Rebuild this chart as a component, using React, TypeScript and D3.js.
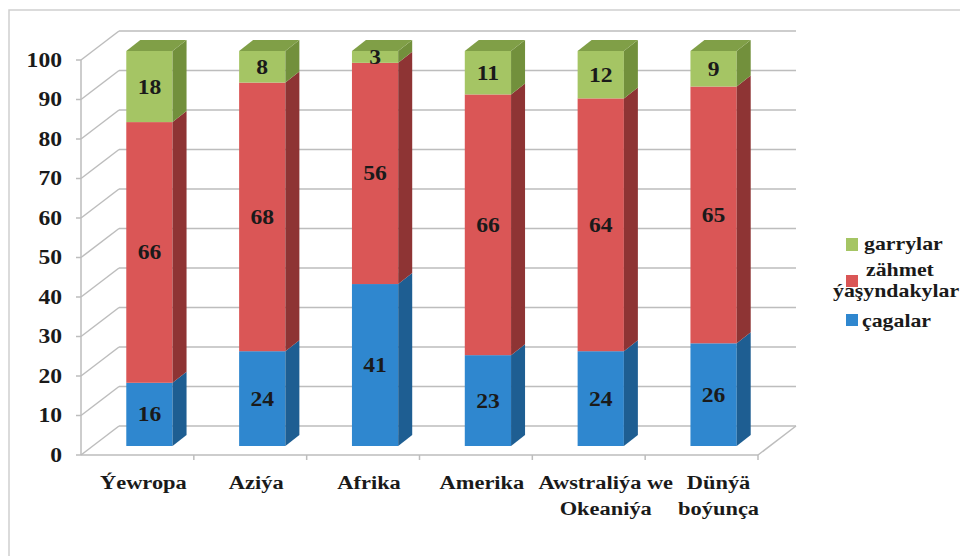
import React from "react";
import * as d3 from "d3";

const categories: string[][] = [
  ["Ýewropa"],
  ["Aziýa"],
  ["Afrika"],
  ["Amerika"],
  ["Awstraliýa we", "Okeaniýa"],
  ["Dünýä", "boýunça"],
];
const cagalar = [16, 24, 41, 23, 24, 26];
const zahmet = [66, 68, 56, 66, 64, 65];
const garrylar = [18, 8, 3, 11, 12, 9];
const yTicks = [0, 10, 20, 30, 40, 50, 60, 70, 80, 90, 100];

const seriesDefs = [
  { key: "cagalar", name: "çagalar", values: cagalar, front: "#2f87cf", side: "#1e5e92", top: "#2a74b3" },
  { key: "zahmet", name: "zähmet", values: zahmet, front: "#da5656", side: "#8e3434", top: "#b54444" },
  { key: "garrylar", name: "garrylar", values: garrylar, front: "#a5c564", side: "#72903c", top: "#809f47" },
];

const FONT = "'Liberation Serif', 'Times New Roman', serif";
const SX = 1.18;

export default function App() {
  const W = 960, H = 556;
  const x0 = 81, x1 = 758;
  const x = d3.scaleBand<number>().domain(categories.map((_, i) => i)).range([x0, x1]);
  const y = d3.scaleLinear().domain([0, 100]).range([455, 60]);
  const wall = { dx: 38, dy: -29 };
  const barFront = { dx: 12, dy: -9 };
  const barSide = { dx: 14, dy: -11 };
  const barW = x.bandwidth() * 0.41;
  const grid = "#bdbdbd";

  const stack = d3.stack<number>().keys(seriesDefs.map((s) => s.key)).value((i, k) => {
    const s = seriesDefs.find((d) => d.key === k)!;
    return s.values[i];
  })(categories.map((_, i) => i));

  const txt = (key: string, tx: number, ty: number, s: string, size: number, anchor: string) => (
    <text
      key={key}
      transform={`translate(${tx},${ty}) scale(${SX},1)`}
      textAnchor={anchor as any}
      fontFamily={FONT}
      fontWeight="bold"
      fontSize={size}
      fill="#1a1a1a"
    >
      {s}
    </text>
  );

  return (
    <svg width={W} height={H} style={{ position: "absolute", left: 0, top: 0, background: "#fff" }}>
      <rect x={0} y={0} width={W} height={H} fill="#fff" />
      {/* frame */}
      <path d={`M9,${H} L9,10 L${W},10`} fill="none" stroke="#cfcfcf" strokeWidth={1.5} />

      {/* back wall gridlines and left wall diagonals */}
      {yTicks.map((t) => (
        <g key={"g" + t}>
          <line x1={x0} y1={y(t)} x2={x0 + wall.dx} y2={y(t) + wall.dy} stroke={grid} strokeWidth={1.5} />
          <line x1={x0 + wall.dx} y1={y(t) + wall.dy} x2={x1 + wall.dx} y2={y(t) + wall.dy} stroke={grid} strokeWidth={1.5} />
          <line x1={x0 - 5} y1={y(t)} x2={x0} y2={y(t)} stroke={grid} strokeWidth={1.5} />
          {txt("yl" + t, 62, y(t) + 6.5, String(t), 20, "end")}
        </g>
      ))}
      {/* floor */}
      <line x1={x0} y1={y(0)} x2={x1} y2={y(0)} stroke={grid} strokeWidth={1.5} />
      <line x1={x1} y1={y(0)} x2={x1 + wall.dx} y2={y(0) + wall.dy} stroke={grid} strokeWidth={1.5} />
      <line x1={x0} y1={y(0)} x2={x0} y2={y(100)} stroke={grid} strokeWidth={1.5} />
      {categories.map((_, i) => (
        <line key={"xt" + i} x1={x(i)! + x.bandwidth()} y1={y(0)} x2={x(i)! + x.bandwidth()} y2={y(0) + 5} stroke={grid} strokeWidth={1.5} />
      ))}

      {/* bars */}
      {categories.map((_, i) => {
        const cx = x(i)! + x.bandwidth() / 2 + barFront.dx;
        const bl = cx - barW / 2;
        const br = cx + barW / 2;
        return (
          <g key={"bar" + i}>
            {stack.map((layer, si) => {
              const s = seriesDefs[si];
              const [v0, v1] = layer[i];
              const yb = y(v0) + barFront.dy;
              const yt = y(v1) + barFront.dy;
              const isTop = si === stack.length - 1;
              return (
                <g key={s.key}>
                  <rect x={bl} y={yt} width={barW} height={yb - yt} fill={s.front} />
                  <path
                    d={`M${br},${yb} L${br},${yt} L${br + barSide.dx},${yt + barSide.dy} L${br + barSide.dx},${yb + barSide.dy} Z`}
                    fill={s.side}
                  />
                  {isTop && (
                    <path
                      d={`M${bl},${yt} L${br},${yt} L${br + barSide.dx},${yt + barSide.dy} L${bl + barSide.dx},${yt + barSide.dy} Z`}
                      fill={s.top}
                    />
                  )}
                  {txt("v" + si, cx, (yt + yb) / 2 + 7, String(s.values[i]), 20, "middle")}
                </g>
              );
            })}
          </g>
        );
      })}

      {/* category labels */}
      {categories.map((lines, i) =>
        lines.map((l, li) =>
          txt("c" + i + li, x(i)! + x.bandwidth() / 2 + (lines.length > 1 ? 17 : 6), 489 + li * 26, l, 19, "middle")
        )
      )}

      {/* legend */}
      <rect x={846} y={238} width={12} height={13} fill={seriesDefs[2].front} />
      {txt("lg1", 864, 250, "garrylar", 18.5, "start")}
      <rect x={846} y={275} width={12} height={12} fill={seriesDefs[1].front} />
      {txt("lg2", 866, 276, "zähmet", 18.5, "start")}
      {txt("lg2b", 833, 297, "ýaşyndakylar", 18.5, "start")}
      <rect x={846} y={314} width={12} height={12} fill={seriesDefs[0].front} />
      {txt("lg3", 862, 327, "çagalar", 18.5, "start")}
    </svg>
  );
}
